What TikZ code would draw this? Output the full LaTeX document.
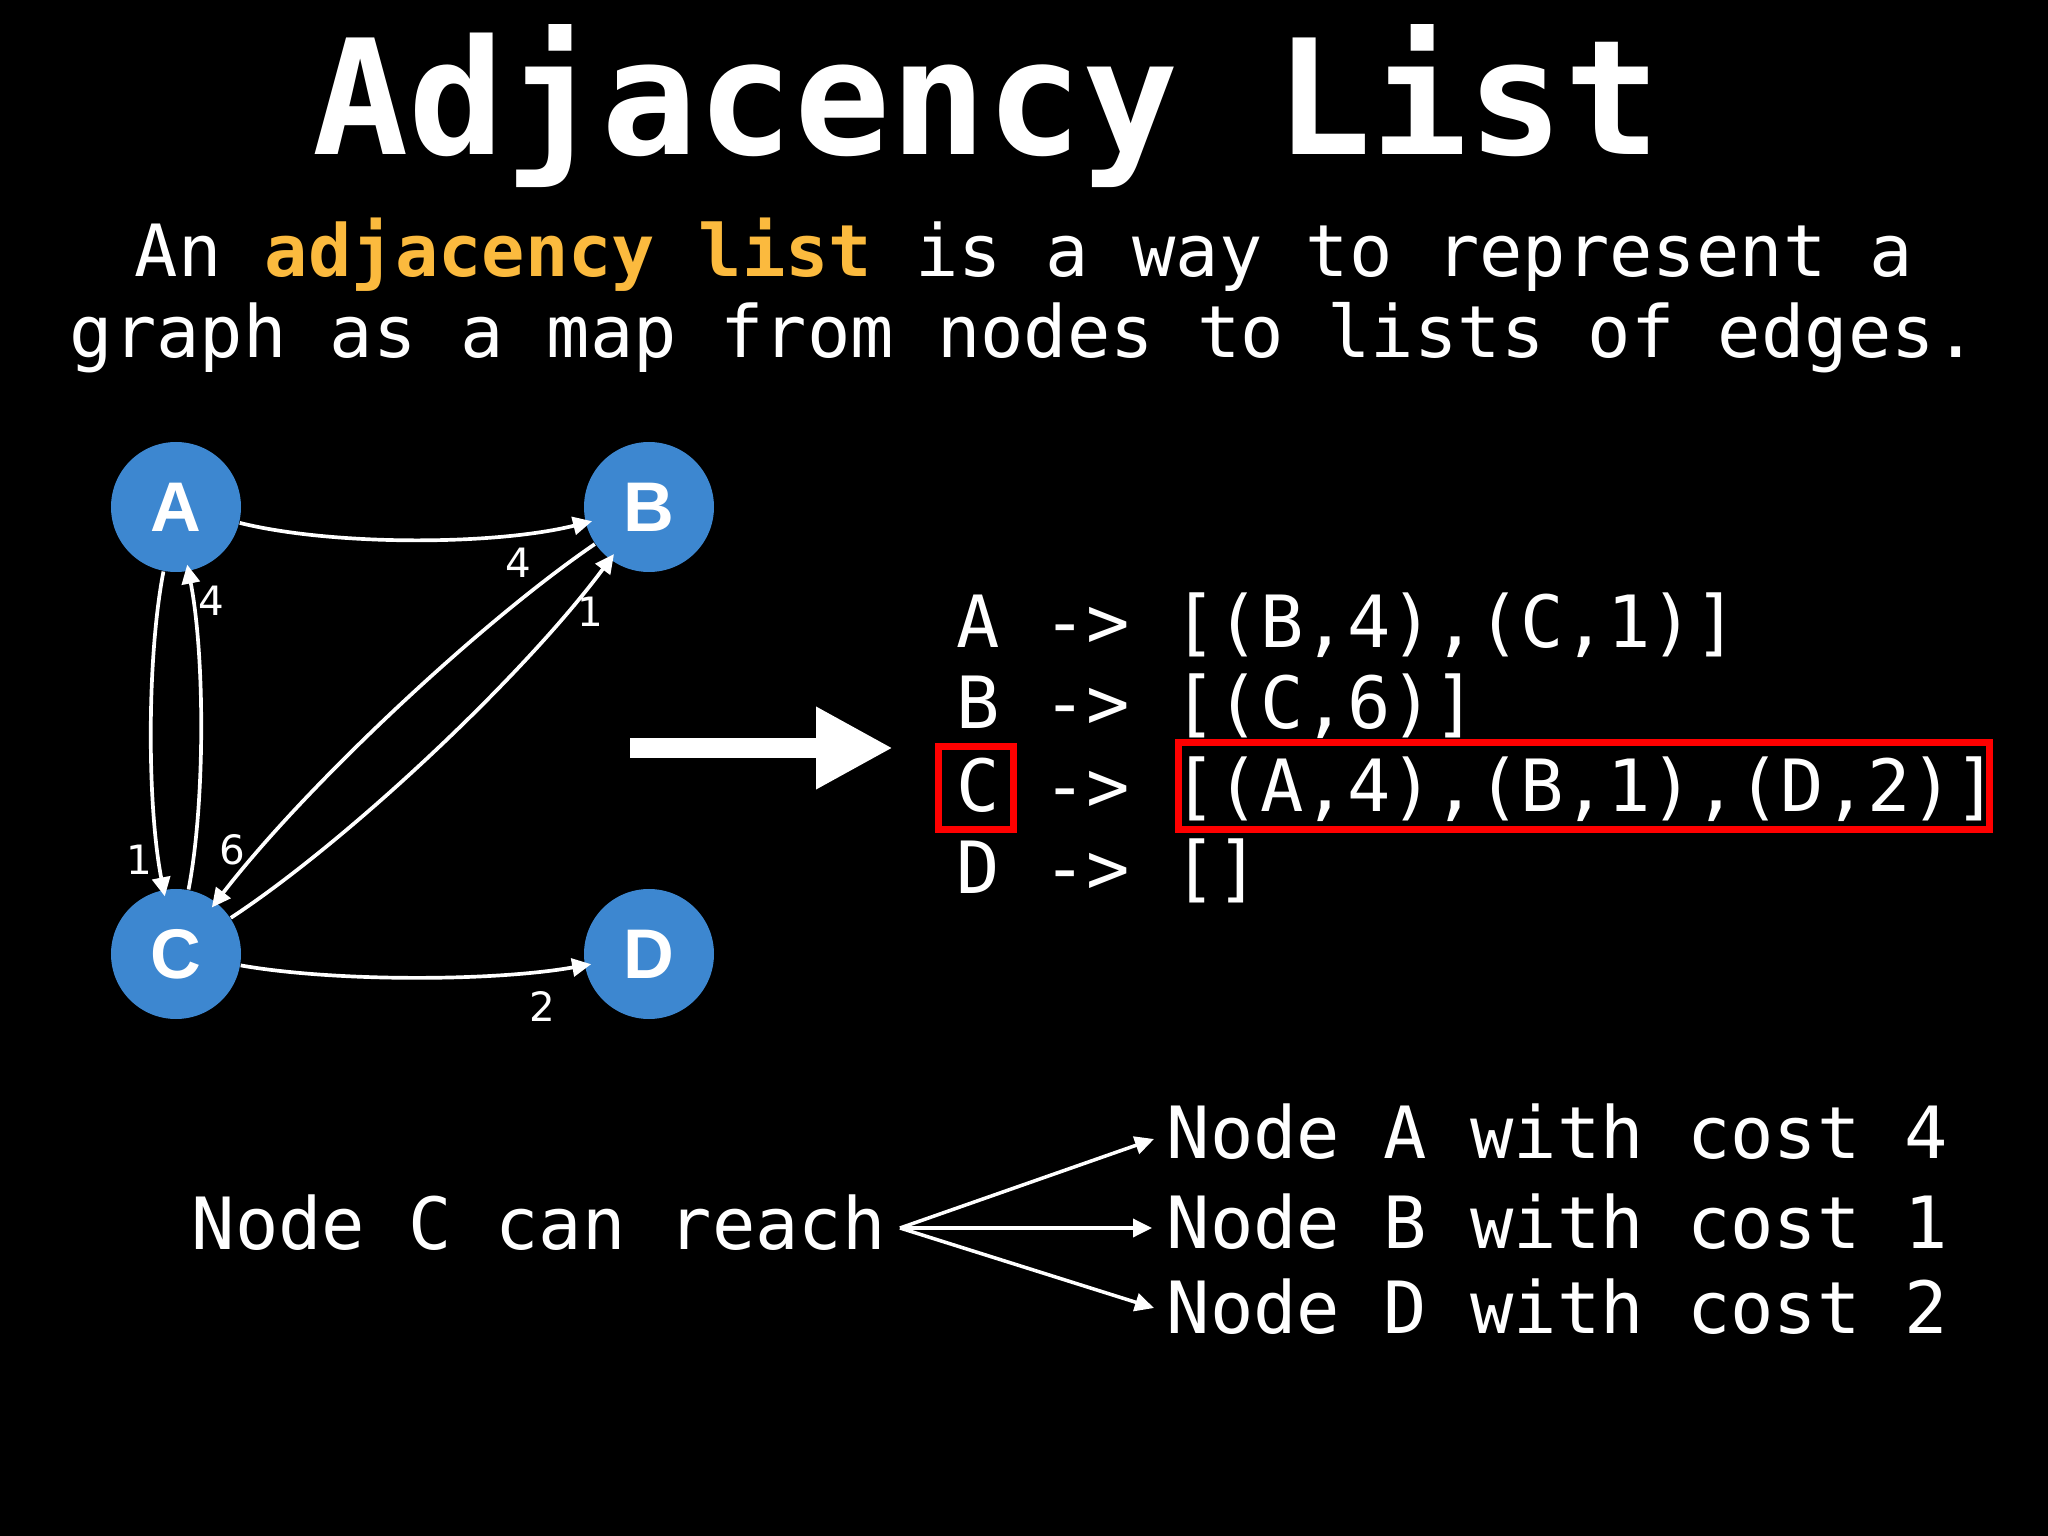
\documentclass[tikz,border=0pt]{standalone}
\usepackage{fontspec}
\setmonofont{DejaVu Sans Mono}
\setsansfont{Liberation Sans}
\newfontfamily\wtfont{DejaVu Sans}
\usetikzlibrary{arrows.meta, positioning, calc}
\definecolor{vblue}{RGB}{61,135,208}
\definecolor{hlorange}{RGB}{251,186,62}
\definecolor{boxred}{RGB}{255,0,0}

\begin{document}
\begin{tikzpicture}[
  vtx/.style={circle, fill=vblue, minimum size=13mm, inner sep=0pt,
    text=white, font=\sffamily\bfseries\fontsize{20}{22}\selectfont},
  link/.style={-{Triangle[length=1.9mm, width=1.8mm]}, white, line width=1.05pt,
    shorten >=-0.7mm, looseness=0.7},
  wlbl/.style={text=white, inner sep=0pt, font=\wtfont\fontsize{11.5}{13}\selectfont},
  mono/.style={text=white, inner sep=0pt, anchor=base west,
    font=\ttfamily\fontsize{20.5}{24}\selectfont},
  hlbox/.style={draw=boxred, line width=0.7mm, inner sep=0pt},
  fanarr/.style={-{Triangle[length=1.9mm, width=1.8mm]}, white, line width=1pt},
]
\fill[black] (0,0) rectangle (20.48,-15.36);
\useasboundingbox (0,0) rectangle (20.48,-15.36);

% ── Title and subtitle ──
\node[text=white, inner sep=0pt, anchor=base west,
  font=\ttfamily\bfseries\fontsize{45.5}{50}\selectfont] (title) at (3.12,-1.55) {Adjacency List};
\node[mono, anchor=base] (sub1) at (10.24,-2.77)
  {An \textbf{\textcolor{hlorange}{adjacency list}} is a way to represent a};
\node[mono, anchor=base] (sub2) at (10.24,-3.58)
  {graph as a map from nodes to lists of edges.};

% ── Graph ──
\node[vtx] (A) at (1.76,-5.07) {A};
\node[vtx] (B) at (6.49,-5.07) {B};
\node[vtx] (C) at (1.76,-9.54) {C};
\node[vtx] (D) at (6.49,-9.54) {D};

\draw[link] (A) to[bend right=14] (B);
\draw[link] (A) to[bend right=11] (C);
\draw[link] (C) to[bend right=11] (A);
\draw[link] (B) to[bend right=9] (C);
\draw[link] (C) to[bend right=10] (B);
\draw[link] (C) to[bend right=10] (D);

% edge weights
\node[wlbl] (wAB) at (5.18,-5.63) {4};
\node[wlbl] (wCB) at (5.90,-6.12) {1};
\node[wlbl] (wCA) at (2.11,-6.01) {4};
\node[wlbl] (wAC) at (1.39,-8.60) {1};
\node[wlbl] (wBC) at (2.32,-8.50) {6};
\node[wlbl] (wCD) at (5.42,-10.06) {2};

% ── Big arrow ──
\coordinate (bigS) at (6.30,-7.48);
\coordinate (bigE) at (8.93,-7.48);
\draw[white, line width=2mm, -{Triangle[length=7.7mm, width=7.7mm]}] (bigS) -- (bigE);

% ── Adjacency list ──
\node[mono] (lA) at (9.56,-6.48) {A -> [(B,4),(C,1)]};
\node[mono] (lB) at (9.56,-7.29) {B -> [(C,6)]};
\node[mono] (lC) at (9.56,-8.11) {C -> [(A,4),(B,1),(D,2)]};
\node[mono] (lD) at (9.56,-8.93) {D -> []};

\node[hlbox, minimum width=7.5mm, minimum height=8.3mm] (hlC) at (9.76,-7.88) {};
\node[hlbox, minimum width=81.1mm, minimum height=8.6mm] (hlL) at (15.84,-7.86) {};

% ── Reachability ──
\node[mono] (reach) at (1.91,-12.49) {Node C can reach};
\node[mono] (nA) at (11.66,-11.58) {Node A with cost 4};
\node[mono] (nB) at (11.66,-12.48) {Node B with cost 1};
\node[mono] (nD) at (11.66,-13.33) {Node D with cost 2};

\coordinate (fan) at (9.00,-12.28);
\draw[fanarr] (fan) -- ($(nA.base west)+(-0.12,0.19)$);
\draw[fanarr] (fan) -- ($(nB.base west)+(-0.14,0.20)$);
\draw[fanarr] (fan) -- ($(nD.base west)+(-0.12,0.25)$);
\end{tikzpicture}
\end{document}
